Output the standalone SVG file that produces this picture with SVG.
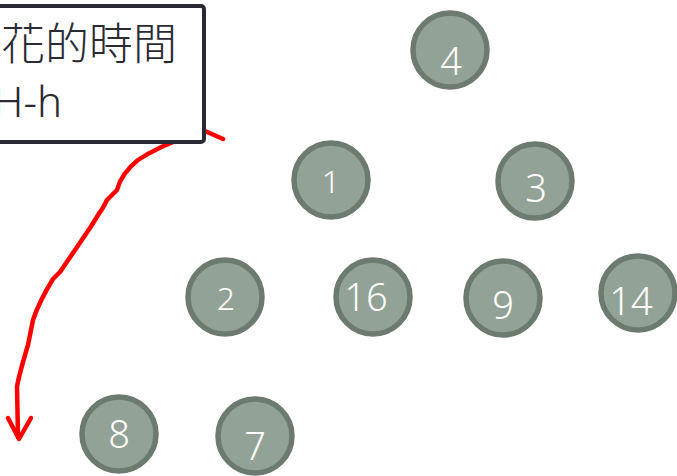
<svg xmlns="http://www.w3.org/2000/svg" width="677" height="476" viewBox="0 0 677 476">
  <style>
    .node circle { fill: #93a296; stroke: #6d7a70; stroke-width: 5.5; }
    .node text { fill: #ffffff; font-family: "Noto Sans", "Open Sans", sans-serif; font-weight: 300; text-anchor: middle; }
    .ink { fill: none; stroke: #ff0000; stroke-width: 4.5; stroke-linecap: round; stroke-linejoin: round; }
    .note rect { fill: #ffffff; stroke: #2a2a33; stroke-width: 4; }
    .note text { fill: #2a2a33; font-family: "Noto Sans", "Noto Sans CJK TC", sans-serif; font-weight: 300; }
  </style>

  <!-- hand-drawn red arrow -->
  <g id="connectors">
    <path class="ink" d="M223,139 L205,131 L185,138 C170,142 150,152 138,160 C128,168 120,178 117,190 L107,200 C104,206 102,210 100,212 L90,228 L60,272 L53,279 C45,292 38,305 33,320 L28,345 C22,365 18,380 17,387 L18,437"/>
    <path class="ink" d="M8,418 L19,439 L31,418"/>
  </g>

  <!-- note box -->
  <g id="note" class="note">
    <rect x="-20" y="6" width="224" height="136" rx="3"/>
    <text x="177" y="60" font-size="44" text-anchor="end">花的時間</text>
    <text x="62" y="117" font-size="42" text-anchor="end">H-h</text>
  </g>

  <g id="n4" class="node"><circle cx="450" cy="50" r="37"/><text x="451" y="75" font-size="38">4</text></g>
  <g id="n1" class="node"><circle cx="331" cy="180" r="37"/><text x="331" y="193" font-size="32">1</text></g>
  <g id="n3" class="node"><circle cx="535" cy="181" r="37"/><text x="536" y="202" font-size="38">3</text></g>
  <g id="n2" class="node"><circle cx="225" cy="297" r="37"/><text x="226" y="310" font-size="32">2</text></g>
  <g id="n16" class="node"><circle cx="373" cy="297" r="37"/><text x="366" y="311" font-size="38">16</text></g>
  <g id="n9" class="node"><circle cx="503" cy="298" r="37"/><text x="503" y="319" font-size="38">9</text></g>
  <g id="n14" class="node"><circle cx="638" cy="293" r="37"/><text x="631" y="315" font-size="38">14</text></g>
  <g id="n8" class="node"><circle cx="119" cy="434" r="37"/><text x="119" y="448" font-size="38">8</text></g>
  <g id="n7" class="node"><circle cx="255" cy="436" r="37"/><text x="255" y="460" font-size="38">7</text></g>
</svg>
